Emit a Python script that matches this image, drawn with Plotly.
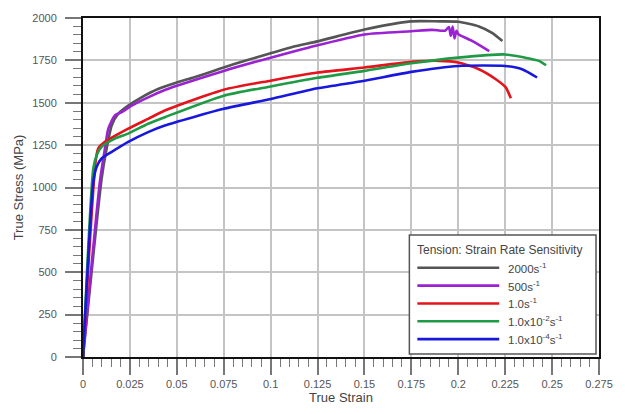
import plotly.graph_objects as go

# ---------------- data ----------------
names = ["2000s<sup>-1</sup>", "500s<sup>-1</sup>", "1.0s<sup>-1</sup>",
         "1.0x10<sup>-2</sup>s<sup>-1</sup>", "1.0x10<sup>-4</sup>s<sup>-1</sup>"]
colors = ["#555555", "#9a22d2", "#e3141c", "#1f9a45", "#1818dc"]

strain_2000 = [0, 0.0099, 0.0126, 0.0153, 0.0188, 0.0241, 0.0312, 0.040, 0.050, 0.059,
               0.075, 0.0855, 0.100, 0.112, 0.125, 0.150, 0.1745, 0.190, 0.200, 0.211,
               0.218, 0.2235]
stress_2000 = [0, 1050, 1230, 1366, 1435, 1483, 1532, 1581, 1620, 1649,
               1708, 1745, 1792, 1830, 1862, 1932, 1980, 1980, 1978, 1950,
               1912, 1864]

strain_500 = [0, 0.009, 0.0117, 0.0135, 0.017, 0.0206, 0.0259, 0.0347, 0.0436, 0.050,
              0.075, 0.100, 0.120, 0.150, 0.175, 0.186, 0.193, 0.195, 0.196, 0.197,
              0.198, 0.199, 0.200, 0.2076, 0.2165]
stress_500 = [0, 1035, 1230, 1347, 1425, 1444, 1483, 1532, 1575, 1600,
              1688, 1766, 1825, 1903, 1922, 1930, 1925, 1947, 1895, 1950,
              1880, 1925, 1905, 1864, 1805]

strain_1 = [0, 0.0067, 0.0081, 0.0117, 0.0241, 0.0347, 0.0436, 0.075, 0.100, 0.125,
            0.150, 0.175, 0.190, 0.200, 0.211, 0.220, 0.2253, 0.228]
stress_1 = [0, 1152, 1230, 1269, 1347, 1405, 1454, 1577, 1630, 1678,
            1708, 1741, 1747, 1737, 1698, 1639, 1591, 1526]

strain_1e2 = [0, 0.0055, 0.0073, 0.0099, 0.017, 0.0241, 0.0347, 0.0436, 0.075, 0.100,
              0.125, 0.150, 0.175, 0.200, 0.225, 0.2356, 0.243, 0.2468]
stress_1e2 = [0, 1113, 1191, 1240, 1288, 1318, 1376, 1415, 1542, 1596,
              1647, 1688, 1733, 1766, 1785, 1766, 1747, 1721]

strain_1e4 = [0, 0.0055, 0.0073, 0.0099, 0.0153, 0.0241, 0.0347, 0.0436, 0.075, 0.100,
              0.125, 0.150, 0.175, 0.200, 0.225, 0.234, 0.242]
stress_1e4 = [0, 1035, 1123, 1171, 1210, 1269, 1327, 1366, 1464, 1522,
              1585, 1630, 1682, 1717, 1717, 1698, 1649]

series = [(strain_2000, stress_2000), (strain_500, stress_500), (strain_1, stress_1),
          (strain_1e2, stress_1e2), (strain_1e4, stress_1e4)]

legend_title = "Tension: Strain Rate Sensitivity"
x_ticks = [0, 0.025, 0.05, 0.075, 0.1, 0.125, 0.15, 0.175, 0.2, 0.225, 0.25, 0.275]
y_ticks = [0, 250, 500, 750, 1000, 1250, 1500, 1750, 2000]

# ---------------- figure ----------------
FONT = "Arial, Liberation Sans, sans-serif"
fig = go.Figure()
for (sx, sy), nm, c in zip(series, names, colors):
    fig.add_trace(go.Scatter(x=sx, y=sy, mode="lines", name=nm,
                             line=dict(color=c, width=2.6, shape="spline", smoothing=0.6),
                             showlegend=False))

axis_common = dict(showgrid=True, gridcolor="#c4c4c4", gridwidth=1.5,
                   showline=True, linecolor="#111111", linewidth=2, mirror=True,
                   ticks="outside", ticklen=16, tickwidth=1.5, tickcolor="#777777",
                   tickfont=dict(family=FONT, size=11, color="#555555"),
                   zeroline=False)

fig.update_xaxes(range=[0, 0.275], tickvals=x_ticks,
                 ticktext=[("%g" % v) for v in x_ticks],
                 minor=dict(dtick=0.005, ticks="outside", ticklen=8, tickwidth=1.2,
                            tickcolor="#777777", showgrid=False),
                 title=dict(text="True Strain", font=dict(family=FONT, size=13, color="#444444"),
                            standoff=2),
                 **axis_common)
fig.update_yaxes(range=[0, 2000], tickvals=y_ticks,
                 minor=dict(dtick=50, ticks="outside", ticklen=8, tickwidth=1.2,
                            tickcolor="#777777", showgrid=False),
                 ticklabelstandoff=6,
                 title=dict(text="True Stress (MPa)", font=dict(family=FONT, size=13, color="#444444"),
                            standoff=6),
                 **axis_common)

# ---------------- manual legend (paper coordinates) ----------------
L, R, T, B = 83, 600, 15, 357
def px(xp): return (xp - L) / (R - L)
def py(yp): return (B - yp) / (B - T)

fig.add_shape(type="rect", xref="paper", yref="paper",
              x0=px(410), x1=px(597), y0=py(354), y1=py(234),
              line=dict(color="#555555", width=1.5), fillcolor="white", layer="above")
fig.add_annotation(xref="paper", yref="paper", x=px(416), y=py(249), xanchor="left",
                   yanchor="middle", text=legend_title, showarrow=False,
                   font=dict(family=FONT, size=12, color="#444444"))
entry_y = [267, 285, 303, 321, 339]
for nm, c, ey in zip(names, colors, entry_y):
    fig.add_shape(type="line", xref="paper", yref="paper",
                  x0=px(418), x1=px(500), y0=py(ey), y1=py(ey),
                  line=dict(color=c, width=2.6), layer="above")
    fig.add_annotation(xref="paper", yref="paper", x=px(507), y=py(ey), xanchor="left",
                       yanchor="middle", text=nm, showarrow=False,
                       font=dict(family=FONT, size=11.5, color="#444444"))

fig.update_layout(width=625, height=414, margin=dict(l=L, r=625 - R, t=T, b=414 - B),
                  paper_bgcolor="white", plot_bgcolor="white",
                  font=dict(family=FONT))

fig.write_html("out.html")
